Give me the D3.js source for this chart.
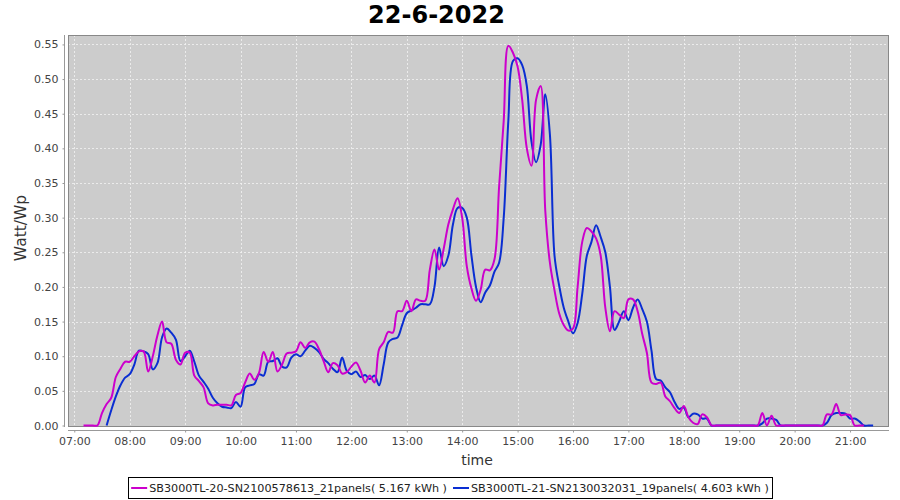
<!DOCTYPE html>
<html><head><meta charset="utf-8">
<script src="https://cdn.jsdelivr.net/npm/d3@7"></script>
<style>body{margin:0;background:#fff}</style></head>
<body><svg id="c" width="900" height="500"></svg>
<script>
// ---- data ----
const titleText = "22-6-2022";
const startTime = "07:10";      // first sample, samples every 5 minutes
const stepMinutes = 5;
const xTickLabels = ["07:00","08:00","09:00","10:00","11:00","12:00","13:00","14:00","15:00","16:00","17:00","18:00","19:00","20:00","21:00"];
const yTickValues = [0,0.05,0.10,0.15,0.20,0.25,0.30,0.35,0.40,0.45,0.50,0.55];
const seriesNames = ["SB3000TL-20-SN2100578613_21panels( 5.167 kWh )","SB3000TL-21-SN2130032031_19panels( 4.603 kWh )"];
const series1 = [
  0,0,0,0,0.018,0.031,0.04,0.07,0.082,0.092,
  0.092,0.10,0.107,0.107,0.078,0.10,0.13,0.15,0.12,0.118,0.095,0.088,
  0.105,0.105,0.072,0.064,0.055,0.032,0.029,0.03,0.03,0.03,0.029,0.044,
  0.047,0.062,0.075,0.066,0.076,0.106,0.092,0.106,0.078,0.088,0.104,0.105,
  0.107,0.12,0.112,0.12,0.121,0.11,0.093,0.077,0.09,0.087,0.075,0.077,
  0.085,0.091,0.079,0.062,0.072,0.062,0.11,0.12,0.135,0.134,0.165,0.165,
  0.18,0.165,0.182,0.18,0.18,0.225,0.254,0.225,0.255,0.29,0.312,0.328,
  0.30,0.23,0.198,0.18,0.196,0.225,0.224,0.24,0.345,0.44,0.548,0.538,
  0.518,0.47,0.40,0.375,0.47,0.49,0.31,0.235,0.195,0.162,0.145,0.137,
  0.14,0.2,0.265,0.285,0.28,0.27,0.245,0.17,0.136,0.165,0.16,0.155,
  0.182,0.182,0.165,0.132,0.105,0.062,0.06,0.062,0.042,0.035,0.025,0.018,
  0.028,0.012,0.004,0.002,0.016,0.012,0,0,0,0,0,0,
  0,0,0,0,0,0.018,0,0.014,0,0,0,0,
  0,0,0,0,0,0,0,0.016,0.016,0.031,0.015,0.016,
  0.015,0,0,0,null,null
];
const series2 = [
  null,null,null,null,null,0,0.022,0.042,0.058,0.069,
  0.074,0.088,0.108,0.107,0.103,0.081,0.09,0.127,0.14,0.134,0.124,0.093,
  0.1,0.108,0.092,0.072,0.063,0.053,0.04,0.032,0.027,0.026,0.025,0.034,
  0.027,0.055,0.058,0.06,0.074,0.072,0.092,0.093,0.097,0.085,0.084,0.098,
  0.103,0.1,0.108,0.115,0.112,0.106,0.096,0.09,0.082,0.077,0.098,0.079,
  0.074,0.078,0.07,0.073,0.067,0.072,0.058,0.088,0.12,0.125,0.127,0.145,
  0.162,0.166,0.17,0.175,0.175,0.175,0.2,0.257,0.23,0.245,0.29,0.314,
  0.314,0.3,0.246,0.2,0.178,0.192,0.202,0.222,0.235,0.3,0.44,0.526,
  0.53,0.52,0.49,0.41,0.38,0.405,0.478,0.42,0.245,0.202,0.17,0.15,
  0.133,0.148,0.19,0.245,0.265,0.289,0.272,0.25,0.2,0.138,0.15,0.165,
  0.152,0.17,0.182,0.168,0.15,0.108,0.067,0.065,0.055,0.048,0.034,0.024,
  0.026,0.012,0.017,0.016,0.01,0.01,0,0,0,0,0,0,
  0,0,0,0,0,0.003,0.01,0.01,0.008,0,0,0,
  0,0,0,0,0,0,0,0.004,0.015,0.018,0.018,0.017,
  0.01,0.01,0.006,0,0,0
];
const colors = ["#cc00cc","#0a2ed2"];

// ---- layout ----
const svg = d3.select("#c");
const parse = d3.timeParse("%Y-%m-%d %H:%M");
const day = "2022-06-22 ";
const t0 = parse(day + startTime);
const times = series1.map((_, i) => d3.timeMinute.offset(t0, i * stepMinutes));
const plot = {l: 68, r: 889, t: 35, b: 427};

const x = d3.scaleTime()
  .domain([d3.timeSecond.offset(parse(day + "06:53"), 11), d3.timeSecond.offset(parse(day + "21:42"), 11)])
  .range([plot.l, plot.r]);
const y = d3.scaleLinear().domain([0, 0.5636]).range([425.5, plot.t]);

svg.append("rect").attr("width", 900).attr("height", 500).attr("fill", "#fff");
svg.append("rect").attr("x", plot.l).attr("y", plot.t).attr("width", plot.r - plot.l).attr("height", plot.b - plot.t)
  .attr("fill", "#cccccc");

const xTicks = xTickLabels.map(s => parse(day + s));
// grid
const grid = svg.append("g").attr("stroke", "#f2f2f2").attr("stroke-width", 0.8).attr("stroke-dasharray", "2,2");
grid.selectAll(".gx").data(xTicks).join("line")
  .attr("x1", d => Math.round(x(d)) + 0.5).attr("x2", d => Math.round(x(d)) + 0.5)
  .attr("y1", plot.t).attr("y2", plot.b);
grid.selectAll(".gy").data(yTickValues.slice(1)).join("line")
  .attr("x1", plot.l).attr("x2", plot.r)
  .attr("y1", d => Math.round(y(d)) + 0.5).attr("y2", d => Math.round(y(d)) + 0.5);

// plot border
svg.append("rect").attr("x", plot.l + 0.5).attr("y", plot.t + 0.5).attr("width", plot.r - plot.l - 1).attr("height", plot.b - plot.t - 1)
  .attr("fill", "none").attr("stroke", "#888");

// lines (first series drawn on top)
svg.append("clipPath").attr("id", "pc").append("rect")
  .attr("x", plot.l).attr("y", plot.t).attr("width", plot.r - plot.l).attr("height", plot.b - plot.t);
const line = d3.line().defined(d => d.v !== null).x(d => x(d.t)).y(d => y(d.v)).curve(d3.curveCatmullRom.alpha(0.5));
[[series2, 1], [series1, 0]].forEach(([s, k]) => {
  const pts = s.map((v, i) => ({t: times[i], v}));
  svg.append("path").attr("clip-path", "url(#pc)").attr("d", line(pts))
    .attr("fill", "none").attr("stroke", colors[k]).attr("stroke-width", 2).attr("stroke-linejoin", "round");
});

// axes
const font = "DejaVu Sans, sans-serif";
const xAxis = d3.axisBottom(x).tickValues(xTicks).tickFormat(d3.timeFormat("%H:%M")).tickSize(2).tickSizeOuter(0).tickPadding(5);
const gx = svg.append("g").attr("transform", `translate(0,${plot.b + 3.5})`).call(xAxis);
gx.select(".domain").attr("stroke", "#999").attr("d", `M${plot.l},0H${plot.r}`);
gx.selectAll(".tick line").attr("stroke", "#999");
gx.selectAll("text").attr("font-family", font).attr("font-size", 11).attr("fill", "#444");

const yAxis = d3.axisLeft(y).tickValues(yTickValues).tickFormat(d3.format(".2f")).tickSize(2).tickSizeOuter(0).tickPadding(4);
const gy = svg.append("g").attr("transform", `translate(${plot.l - 3.5},0)`).call(yAxis);
gy.select(".domain").attr("stroke", "#999").attr("d", `M0,${plot.t}V${plot.b}`);
gy.selectAll(".tick line").attr("stroke", "#999");
gy.selectAll("text").attr("font-family", font).attr("font-size", 11).attr("fill", "#444");

// titles
svg.append("text").attr("x", 436.5).attr("y", 23).attr("text-anchor", "middle")
  .attr("font-family", font).attr("font-weight", "bold").attr("font-size", 24).attr("fill", "#000").text(titleText);
svg.append("text").attr("x", 477).attr("y", 465).attr("text-anchor", "middle")
  .attr("font-family", font).attr("font-size", 14).attr("fill", "#333").text("time");
svg.append("text").attr("transform", `translate(26,228) rotate(-90)`).attr("text-anchor", "middle")
  .attr("font-family", font).attr("font-size", 15.5).attr("fill", "#333").text("Watt/Wp");

// legend
const lg = svg.append("g");
let cx = 0;
seriesNames.forEach((n, k) => {
  const g = lg.append("g").attr("transform", `translate(${cx},0)`);
  g.append("line").attr("x1", 0).attr("x2", 16).attr("y1", 0).attr("y2", 0).attr("stroke", colors[k]).attr("stroke-width", 2);
  const t = g.append("text").attr("x", 18).attr("y", 4).attr("font-family", font).attr("font-size", 11.2).attr("fill", "#222").text(n);
  const w = 18 + t.node().getComputedTextLength();
  cx += w + 6;
});
const totalW = cx - 6;
const lx = 450 - totalW / 2;
lg.attr("transform", `translate(${lx},488)`);
svg.append("rect").attr("x", Math.round(lx - 3) + 0.5).attr("y", 477.5).attr("width", Math.round(totalW + 6)).attr("height", 21)
  .attr("fill", "none").attr("stroke", "#000");
</script></body></html>
